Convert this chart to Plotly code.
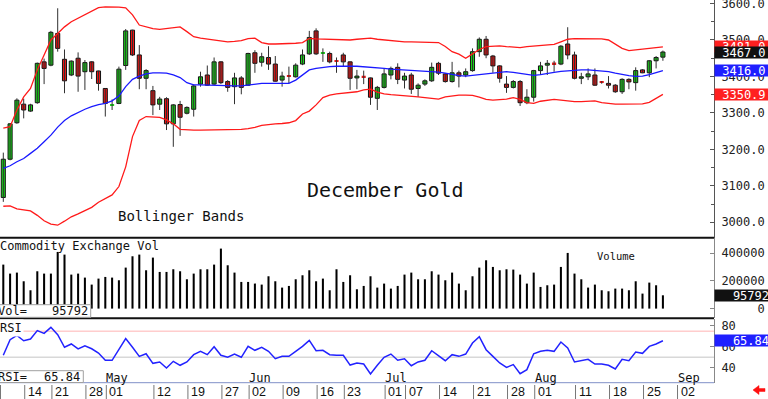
import plotly.graph_objects as go

# ---------------- data ----------------
open_ = [3068, 3173, 3273, 3324, 3305, 3328, 3440, 3431, 3518, 3447,
         3404, 3450, 3413, 3440, 3415, 3367, 3320, 3326, 3430, 3527,
         3459, 3395, 3361, 3324, 3339, 3270, 3323, 3299, 3310, 3379,
         3404, 3379, 3440, 3386, 3372, 3396, 3376, 3465, 3439, 3452,
         3434, 3390, 3402, 3399, 3434, 3462, 3525, 3462, 3463, 3443,
         3459, 3440, 3396, 3400, 3396, 3340, 3370, 3404, 3425, 3390,
         3404, 3367, 3379, 3388, 3436, 3407, 3386, 3410, 3404, 3416,
         3468, 3502, 3456, 3429, 3379, 3370, 3386, 3328, 3343, 3416,
         3431, 3436, 3434, 3489, 3459, 3395, 3399, 3404, 3385, 3381,
         3376, 3358, 3392, 3383, 3418, 3410, 3443, 3453]
high = [3191, 3272, 3340, 3339, 3325, 3438, 3449, 3525, 3587, 3474,
        3444, 3466, 3445, 3442, 3416, 3367, 3337, 3427, 3530, 3528,
        3486, 3420, 3374, 3344, 3343, 3324, 3333, 3318, 3378, 3413,
        3430, 3452, 3442, 3390, 3410, 3401, 3465, 3472, 3465, 3483,
        3456, 3413, 3427, 3436, 3474, 3525, 3532, 3477, 3468, 3452,
        3465, 3441, 3418, 3416, 3397, 3374, 3422, 3427, 3436, 3410,
        3410, 3381, 3392, 3438, 3440, 3409, 3440, 3416, 3422, 3477,
        3507, 3511, 3459, 3431, 3401, 3390, 3390, 3365, 3418, 3440,
        3445, 3443, 3486, 3535, 3468, 3410, 3422, 3422, 3387, 3401,
        3379, 3395, 3395, 3425, 3420, 3445, 3456, 3471]
low = [3056, 3170, 3270, 3285, 3303, 3325, 3379, 3428, 3468, 3354,
       3401, 3358, 3363, 3393, 3361, 3290, 3308, 3324, 3418, 3456,
       3365, 3365, 3294, 3308, 3253, 3207, 3237, 3296, 3290, 3372,
       3374, 3376, 3379, 3358, 3324, 3351, 3374, 3410, 3427, 3418,
       3386, 3372, 3381, 3397, 3431, 3459, 3459, 3440, 3436, 3410,
       3427, 3363, 3365, 3379, 3322, 3308, 3367, 3392, 3379, 3367,
       3352, 3344, 3374, 3385, 3404, 3383, 3383, 3370, 3398, 3413,
       3454, 3450, 3410, 3383, 3355, 3367, 3319, 3324, 3331, 3404,
       3404, 3413, 3431, 3447, 3392, 3379, 3390, 3374, 3380, 3367,
       3355, 3352, 3365, 3361, 3409, 3398, 3422, 3443]
close = [3173, 3270, 3335, 3308, 3322, 3436, 3422, 3521, 3477, 3388,
         3442, 3401, 3438, 3413, 3381, 3326, 3322, 3420, 3525, 3459,
         3395, 3416, 3322, 3338, 3270, 3322, 3288, 3315, 3374, 3399,
         3376, 3440, 3383, 3370, 3396, 3370, 3463, 3436, 3454, 3434,
         3387, 3401, 3400, 3431, 3459, 3507, 3462, 3464, 3440, 3441,
         3440, 3395, 3401, 3398, 3343, 3370, 3407, 3422, 3392, 3401,
         3365, 3376, 3388, 3425, 3409, 3386, 3410, 3401, 3413, 3468,
         3502, 3459, 3429, 3395, 3370, 3386, 3328, 3343, 3416, 3429,
         3436, 3434, 3483, 3459, 3395, 3399, 3407, 3376, 3383, 3376,
         3358, 3392, 3385, 3416, 3410, 3443, 3452, 3467.0]

bb_upper = [3258, 3262, 3308, 3344, 3367, 3418, 3459, 3500, 3518, 3536,
            3550, 3560, 3571, 3580, 3589, 3591, 3591, 3590, 3588, 3569,
            3541, 3535, 3531, 3529, 3532, 3535, 3536, 3523, 3509, 3505,
            3502, 3500, 3497, 3495, 3496, 3498, 3504, 3505, 3493, 3489,
            3489, 3489, 3490, 3491, 3493, 3504, 3503, 3502, 3501, 3500,
            3500, 3500, 3502, 3504, 3505, 3502, 3500, 3497, 3495, 3495,
            3495, 3495, 3495, 3495, 3493, 3482, 3468, 3461, 3450, 3462,
            3474, 3482, 3484, 3484, 3482, 3480, 3479, 3482, 3483, 3484,
            3486, 3488, 3495, 3502, 3504, 3504, 3504, 3504, 3503, 3500,
            3489, 3477, 3471, 3473, 3473, 3475, 3478, 3481.0]
bb_middle = [3148, 3155, 3166, 3175, 3189, 3203, 3221, 3239, 3261, 3279,
             3292, 3302, 3310, 3317, 3323, 3326, 3333, 3346, 3372, 3392,
             3401, 3407, 3410, 3410, 3409, 3404, 3397, 3383, 3377, 3377,
             3376, 3376, 3375, 3374, 3374, 3374, 3377, 3380, 3381, 3381,
             3381, 3379, 3381, 3390, 3403, 3418, 3422, 3425, 3427, 3428,
             3429, 3428, 3428, 3427, 3425, 3424, 3422, 3420, 3419, 3418,
             3417, 3416, 3416, 3415, 3412, 3409, 3405, 3402, 3401, 3403,
             3407, 3409, 3410, 3412, 3413, 3411, 3409, 3405, 3403, 3405,
             3409, 3411, 3414, 3416, 3418, 3418, 3418, 3417, 3416, 3413,
             3409, 3405, 3402, 3400, 3401, 3405, 3410, 3416.0]
bb_lower = [3044, 3045, 3037, 3034, 3031, 3019, 3004, 2995, 2992, 3003,
            3015, 3023, 3032, 3041, 3055, 3064, 3075, 3098, 3152, 3235,
            3279, 3290, 3290, 3288, 3281, 3270, 3255, 3253, 3253, 3253,
            3253, 3253, 3253, 3253, 3253, 3255, 3257, 3260, 3266, 3269,
            3270, 3271, 3273, 3279, 3297, 3305, 3322, 3342, 3349, 3352,
            3354, 3357, 3358, 3363, 3365, 3357, 3352, 3350, 3349, 3347,
            3346, 3344, 3342, 3340, 3338, 3344, 3347, 3349, 3349, 3348,
            3343, 3337, 3335, 3336, 3338, 3342, 3337, 3328, 3326, 3332,
            3335, 3337, 3335, 3332, 3331, 3331, 3332, 3333, 3328, 3325,
            3324, 3324, 3324, 3324, 3325, 3329, 3339, 3350.9]

volume = [316800, 252000, 259200, 196800, 132000, 268800, 252000, 252000, 408000, 388800,
          244800, 252000, 223200, 172800, 216000, 228000, 223200, 204000, 295200, 376800,
          388800, 276000, 367200, 264000, 264000, 283200, 268800, 211200, 252000, 283200,
          283200, 316800, 432000, 312000, 259200, 192000, 192000, 180000, 172800, 232800,
          196800, 151200, 163200, 211200, 240000, 276000, 196800, 216000, 132000, 283200,
          192000, 240000, 139200, 163200, 232800, 151200, 180000, 144000, 163200, 244800,
          259200, 211200, 211200, 268800, 244800, 204000, 259200, 180000, 132000, 232800,
          295200, 348000, 300000, 276000, 283200, 280800, 244800, 180000, 259200, 156000,
          168000, 172800, 300000, 400800, 252000, 211200, 151200, 172800, 132000, 124800,
          144000, 144000, 132000, 196800, 108000, 187200, 168000, 95792]

rsi = [51.8, 66.8, 71.0, 65.8, 67.5, 75.5, 72.9, 78.7, 71.6, 59.5,
       62.7, 57.9, 61.0, 58.1, 54.0, 47.0, 47.0, 57.2, 67.8, 59.5,
       50.8, 53.3, 44.1, 45.4, 39.6, 46.0, 42.2, 45.4, 52.4, 55.6,
       52.4, 60.1, 51.8, 49.9, 53.0, 49.9, 60.4, 56.6, 59.5, 55.6,
       48.5, 50.8, 50.8, 55.6, 60.4, 66.2, 56.2, 56.6, 52.4, 51.8,
       51.8, 42.4, 44.4, 43.4, 33.8, 42.2, 49.9, 53.0, 47.0, 48.5,
       41.8, 45.4, 47.0, 56.2, 51.8, 46.6, 52.4, 50.8, 53.0, 63.6,
       69.7, 57.2, 50.8, 44.4, 40.2, 42.8, 34.1, 38.0, 53.3, 55.6,
       56.6, 55.6, 64.6, 58.8, 45.4, 46.6, 47.9, 43.4, 43.4, 42.2,
       38.6, 47.9, 46.6, 54.9, 53.7, 60.4, 62.7, 65.84]

# date ticks: trading-day index and label
tick_idx = [3, 7, 12, 15, 22, 27, 32, 36, 41, 46, 50, 56, 59, 64, 69, 74, 78, 84, 89, 94, 99]
tick_labels = ["14", "21", "28", "01", "12", "19", "27", "02", "09", "16", "23",
               "01", "07", "14", "21", "28", "01", "11", "18", "25", "02"]
month_idx = [15, 36, 56, 78, 99]
month_labels = ["May", "Jun", "Jul", "Aug", "Sep"]

price_ticks = [3000, 3100, 3200, 3300, 3400, 3500, 3600]
vol_ticks = [0, 200000, 400000]
rsi_ticks = [40, 60, 80]
rsi_levels = [75, 50]

# ---------------- layout helpers ----------------
W, H = 768, 399
PW, PH = 714, 383          # plot area in pixels (l=0, t=0)
MONO = "DejaVu Sans Mono"
NB = "\u00a0"


def px(x):
    return x / PW


def py(y):
    return (PH - y) / PH


N = len(close)
idx = list(range(N))

fig = go.Figure()

# wicks
wx, wy = [], []
for i in idx:
    wx += [i, i, None]
    wy += [low[i], high[i], None]
fig.add_trace(go.Scatter(x=wx, y=wy, mode="lines", line=dict(color="#303030", width=1),
                         yaxis="y", hoverinfo="skip"))

# bodies
body_base = [min(o, c) for o, c in zip(open_, close)]
body_h = [max(abs(c - o), 4.0) for o, c in zip(open_, close)]
body_col = ["#19d219" if c >= o else "#e81414" for o, c in zip(open_, close)]
body_lw = [1 if abs(c - o) >= 4 else 0 for o, c in zip(open_, close)]
fig.add_trace(go.Bar(x=idx, y=body_h, base=body_base, width=0.6, yaxis="y",
                     marker=dict(color=body_col, line=dict(color="#111111", width=body_lw)),
                     hoverinfo="skip"))

# Bollinger bands
fig.add_trace(go.Scatter(x=idx, y=bb_upper, mode="lines", line=dict(color="#ff1a1a", width=1.3), yaxis="y"))
fig.add_trace(go.Scatter(x=idx, y=bb_lower, mode="lines", line=dict(color="#ff1a1a", width=1.3), yaxis="y"))
fig.add_trace(go.Scatter(x=idx, y=bb_middle, mode="lines", line=dict(color="#1a1aff", width=1.3), yaxis="y"))

# volume
fig.add_trace(go.Bar(x=idx, y=volume, width=0.3, marker=dict(color="#000000", line=dict(width=0)),
                     yaxis="y2", hoverinfo="skip"))

# RSI
fig.add_trace(go.Scatter(x=idx, y=rsi, mode="lines", line=dict(color="#2222ff", width=1.5), yaxis="y3"))

axis_common = dict(side="right", anchor="x", showgrid=False, zeroline=False, showline=True,
                   ticks="inside", ticklen=4, tickfont=dict(family=MONO, size=12, color="#222"),
                   ticklabelstandoff=4, ticklabeloverflow="allow", automargin=False, fixedrange=True)

fig.update_layout(
    width=W, height=H, margin=dict(l=0, r=W - PW, t=0, b=H - PH, autoexpand=False),
    paper_bgcolor="white", plot_bgcolor="white", showlegend=False, barmode="overlay",
    xaxis=dict(domain=[0, 1], range=[-0.485, -0.485 + PW / 6.8], showticklabels=False,
               showgrid=False, zeroline=False, ticks="", anchor="y3", fixedrange=True,
               automargin=False),
    yaxis=dict(domain=[py(237.5), 1], range=[3609.7 - 2.743 * 237.5, 3609.7],
               tickmode="array", tickvals=price_ticks, ticktext=[f"{v:.1f}" for v in price_ticks],
               linecolor="#555", tickcolor="#555",
               minor=dict(tickvals=[v + 50 for v in price_ticks[:-1]] + [2950], ticks="inside",
                          ticklen=3, tickcolor="#555"),
               **axis_common),
    yaxis2=dict(domain=[py(318), py(238)], range=[-(318 - 308.6) * 7200, (308.6 - 238) * 7200],
                tickmode="array", tickvals=vol_ticks,
                ticktext=[(NB * (6 - len(str(v)))) + str(v) for v in vol_ticks],
                linecolor="#888", tickcolor="#888", **axis_common),
    yaxis3=dict(domain=[0, py(319)], range=[65.84 - (383 - 340.7) / 1.04, 65.84 + (340.7 - 319) / 1.04],
                tickmode="array", tickvals=rsi_ticks, ticktext=[str(v) for v in rsi_ticks],
                linecolor="#888", tickcolor="#888", **axis_common),
)

shapes = []
# RSI reference levels
for lv, col in zip(rsi_levels, ["#ffb4b4", "#c4c4c4"]):
    shapes.append(dict(type="line", xref="paper", x0=0, x1=1, yref="y3", y0=lv, y1=lv,
                       line=dict(color=col, width=1), layer="below"))
# panel separators
shapes.append(dict(type="line", xref="paper", x0=0, x1=1, yref="paper", y0=py(237.8), y1=py(237.8),
                   line=dict(color="#111", width=2), layer="above"))
shapes.append(dict(type="line", xref="paper", x0=0, x1=1, yref="paper", y0=py(318.3), y1=py(318.3),
                   line=dict(color="#111", width=2), layer="above"))
shapes.append(dict(type="line", xref="paper", x0=0, x1=1, yref="paper", y0=py(382.7), y1=py(382.7),
                   line=dict(color="#8090c8", width=1), layer="above"))
# date row separators
for t in tick_idx:
    shapes.append(dict(type="line", xref="x", x0=t + 0.15, x1=t + 0.15, yref="paper",
                       y0=py(385), y1=py(399), line=dict(color="#777", width=1)))
shapes.append(dict(type="line", xref="paper", x0=px(0.5), x1=px(0.5), yref="paper",
                   y0=py(385), y1=py(399), line=dict(color="#777", width=1)))
# value boxes at lower-left of volume / RSI panels
shapes.append(dict(type="rect", xref="paper", yref="paper", x0=px(-1), x1=px(90.7), y0=py(317.3),
                   y1=py(304.7), fillcolor="white", line=dict(color="#a0a0a0", width=1), layer="above"))
shapes.append(dict(type="rect", xref="paper", yref="paper", x0=px(-1), x1=px(83.3), y0=py(382.5),
                   y1=py(370.7), fillcolor="white", line=dict(color="#a0a0a0", width=1), layer="above"))
# red arrow bottom right
ax = [753, 759, 759, 765, 765, 759, 759]
ay = [390, 385.5, 388.5, 388.5, 391.5, 391.5, 394.5]
path = "M " + " L ".join(f"{px(a):.5f},{py(b):.5f}" for a, b in zip(ax, ay)) + " Z"
shapes.append(dict(type="path", xref="paper", yref="paper", path=path, fillcolor="#ff1010",
                   line=dict(color="#ff1010", width=0.5)))
fig.update_layout(shapes=shapes)

ann = []


def text(x, y, s, size=12, anchor="left", family=MONO, color="#111", **kw):
    ann.append(dict(xref="paper", yref="paper", x=x, y=y, text=s, showarrow=False,
                    xanchor=anchor, yanchor="middle",
                    font=dict(family=family, size=size, color=color), **kw))


text(px(385.5), py(190), "December Gold", size=20, anchor="center")
text(px(180.5), py(216), "Bollinger Bands", size=14, anchor="center")
text(px(-2.5), py(245.5), "Commodity Exchange Vol", size=12)
text(px(616), py(256), "Volume", size=10.5, anchor="center")
text(px(-2.5), py(327.5), "RSI", size=12, bgcolor="white")
text(px(-4), py(311), "Vol=", size=12)
text(px(89.5), py(311), f"{volume[-1]}", size=12, anchor="right")
text(px(-4), py(376.7), "RSI=", size=12)
text(px(82), py(376.7), f"{rsi[-1]:.2f}", size=12, anchor="right")

# month labels in the RSI panel
for m, lab in zip(month_idx, month_labels):
    ann.append(dict(xref="x", x=m, xshift=-1, yref="paper", y=py(377.5), text=lab, showarrow=False,
                    xanchor="left", yanchor="middle", font=dict(family=MONO, size=12, color="#111")))
# day labels below
for t, lab in zip(tick_idx, tick_labels):
    ann.append(dict(xref="x", x=t, xshift=2, yref="paper", y=py(392), text=lab, showarrow=False,
                    xanchor="left", yanchor="middle",
                    font=dict(family="Liberation Sans", size=12.5, color="#111")))


def valbox(yref, val, s, bg, right=False):
    ann.append(dict(xref="paper", x=1, xanchor="left", yref=yref, y=val, yanchor="middle",
                    text=s if right else NB + s, showarrow=False, width=54, height=11,
                    align="right" if right else "left", bgcolor=bg, borderpad=0,
                    font=dict(family=MONO, size=12, color="white")))


valbox("y", bb_upper[-1], f"{bb_upper[-1]:.1f}", "#ff2020")
valbox("y", close[-1], f"{close[-1]:.1f}", "#111111")
valbox("y", bb_middle[-1], f"{bb_middle[-1]:.1f}", "#1f1fff")
valbox("y", bb_lower[-1], f"{bb_lower[-1]:.1f}", "#ff2020")
valbox("y2", volume[-1], f"{volume[-1]}", "#111111", right=True)
valbox("y3", rsi[-1], f"{rsi[-1]:.2f}", "#1f1fff", right=True)

fig.update_layout(annotations=ann)
fig.write_html("out.html", config={"displayModeBar": False},
               post_script="document.body.style.margin='0';document.body.style.overflow='hidden';")
